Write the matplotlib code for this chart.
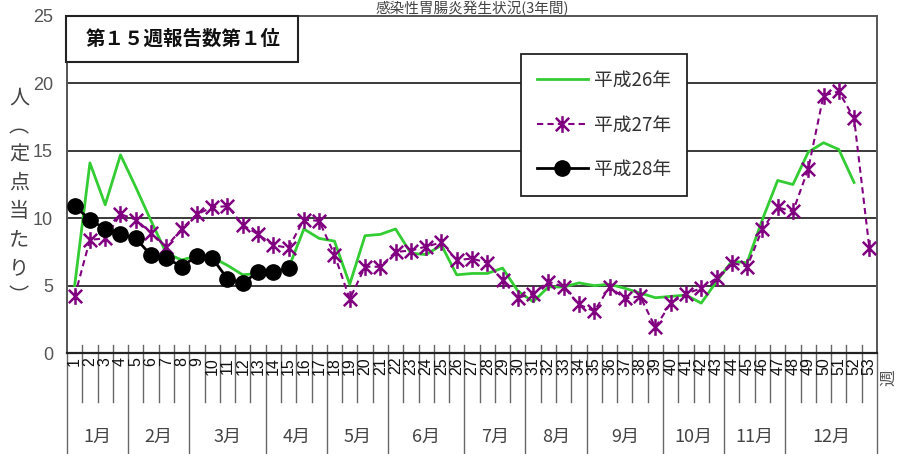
import matplotlib
matplotlib.use("Agg")
import matplotlib.pyplot as plt
from matplotlib.path import Path
from matplotlib.patches import Rectangle
import matplotlib.transforms as mtransforms

plt.rcParams['font.family'] = ['Noto Sans CJK JP', 'DejaVu Sans']

# ---------------- data ----------------
weeks = list(range(1, 54))
week_labels = [str(w) for w in weeks]

h26 = [5.0, 14.1, 11.0, 14.7, 12.3, 9.8, 7.4, 6.9, 7.2, 7.1,
       6.5, 5.8, 5.9, 6.0, 6.3, 9.2, 8.5, 8.3, 5.1, 8.7,
       8.8, 9.2, 7.4, 7.3, 8.0, 5.8, 5.9, 5.9, 6.3, 4.6,
       3.8, 4.9, 4.9, 5.2, 5.0, 5.1, 4.8, 4.45, 4.1, 4.2,
       4.3, 3.7, 5.3, 6.8, 6.7, 9.9, 12.8, 12.5, 14.9, 15.6,
       15.1, 12.65]
h27 = [4.2, 8.4, 8.5, 10.3, 9.9, 8.9, 7.9, 9.2, 10.3, 10.8,
       10.9, 9.5, 8.8, 8.0, 7.8, 9.9, 9.8, 7.3, 4.0, 6.4,
       6.4, 7.5, 7.6, 7.9, 8.2, 6.9, 7.0, 6.7, 5.4, 4.1,
       4.4, 5.3, 4.9, 3.6, 3.1, 4.9, 4.05, 4.2, 1.9, 3.7,
       4.4, 4.8, 5.55, 6.7, 6.4, 9.2, 10.8, 10.5, 13.65, 19.1,
       19.4, 17.4, 7.8]
h28 = [10.9, 9.9, 9.2, 8.85, 8.5, 7.25, 7.05, 6.4, 7.2, 7.05,
       5.5, 5.2, 6.0, 6.0, 6.3]

series_names = ['平成26年', '平成27年', '平成28年']
months = ['1月', '2月', '3月', '4月', '5月', '6月', '7月', '8月', '9月', '10月', '11月', '12月']
month_last_week = [4, 8, 13, 17, 21, 26, 30, 34, 39, 43, 47, 53]
y_ticks = [0, 5, 10, 15, 20, 25]

title = '感染性胃腸炎発生状況(3年間)'
note = '第１５週報告数第１位'
ylabel_chars = ['人', '︵', '定', '点', '当', 'た', 'り', '︶']

# ---------------- figure ----------------
W, H = 897, 454
fig = plt.figure(figsize=(W / 100, H / 100), dpi=100)
fig.patch.set_facecolor('white')

def fx(px):
    return px / W

def fy(py):
    return 1 - py / H

ax_l, ax_r, ax_t, ax_b = 67, 877, 16, 353
ax = fig.add_axes([fx(ax_l), fy(ax_b), fx(ax_r) - fx(ax_l), fy(ax_t) - fy(ax_b)])
ax.set_xlim(0.5, 53.5)
ax.set_ylim(0, 25)

# grid lines
for v in y_ticks[1:-1]:
    ax.axhline(v, color='#3a3a3a', lw=1.4, zorder=1)

for side in ['left', 'right', 'top']:
    ax.spines[side].set_color('#555555')
    ax.spines[side].set_linewidth(1.4)
ax.spines['bottom'].set_color('#222222')
ax.spines['bottom'].set_linewidth(1.6)

ax.set_yticks(y_ticks)
ax.set_yticklabels([str(v) for v in y_ticks], family=['Liberation Sans', 'DejaVu Sans'],
                   fontsize=13, color='#555555')
ax.tick_params(axis='y', length=0, pad=10)
ax.tick_params(axis='x', length=0, labelbottom=False)

# star marker (X + vertical bar)
star = Path([(-1, -1), (1, 1), (-1, 1), (1, -1), (0, -1.25), (0, 1.25)],
            [Path.MOVETO, Path.LINETO, Path.MOVETO, Path.LINETO, Path.MOVETO, Path.LINETO])

ax.plot(weeks[:len(h26)], h26, color='#33CC33', lw=2.0, zorder=3, label=series_names[0])
ax.plot(weeks[:len(h27)], h27, color='#800080', lw=1.5, ls=(0, (3, 2)), marker=star,
        ms=12, mew=1.8, mec='#800080', zorder=4, label=series_names[1], clip_on=False)
ax.plot(weeks[:len(h28)], h28, color='black', lw=2.0, marker='o', ms=11,
        mfc='black', mec='black', zorder=5, label=series_names[2])

# legend
leg = ax.legend(loc='upper left', bbox_to_anchor=(fx(521), fy(54)), bbox_transform=fig.transFigure,
                borderaxespad=0, fancybox=False, framealpha=1, edgecolor='#222222',
                fontsize=13.5, handlelength=2.7, handletextpad=0.35, labelspacing=1.25,
                borderpad=0.85, labelcolor='#333333')
leg.get_frame().set_linewidth(1.3)
leg.set_zorder(10)

# table below the axis
trans = mtransforms.blended_transform_factory(ax.transData, ax.transAxes)
axh = ax_b - ax_t
def ay(py):
    return (ax_b - py) / axh

month_bounds = [0.5] + [m + 0.5 for m in month_last_week]
for k in weeks[:-1]:
    xb = k + 0.5
    if xb in month_bounds:
        continue
    ax.plot([xb, xb], [ay(345), ay(402)], transform=trans, color='#666666', lw=1.0,
            clip_on=False, zorder=2)
for xb in month_bounds:
    top = ay(345) if 0.5 < xb < 53.5 else 0
    ax.plot([xb, xb], [top, ay(454)], transform=trans, color='#666666', lw=1.0,
            clip_on=False, zorder=2)

for w, lab in zip(weeks, week_labels):
    ax.text(w, ay(357), lab, transform=trans, rotation=90, ha='center', va='top',
            fontsize=11.5, color='#111111', family=['Liberation Sans', 'DejaVu Sans'])

first = 1
for m, last in zip(months, month_last_week):
    ax.text((first + last) / 2, ay(437), m, transform=trans, ha='center', va='center',
            fontsize=13, color='#444444')
    first = last + 1

fig.text(fx(889), fy(378), '週', rotation=90, ha='center', va='center', fontsize=12, color='#555555')

# title (at the very top)
fig.text(fx(472), fy(0.5), title, ha='center', va='top', fontsize=10.5, color='#444444')

# note box
fig.patches.append(Rectangle((fx(66), fy(62)), fx(298) - fx(66), fy(16) - fy(62),
                             transform=fig.transFigure, facecolor='white', edgecolor='#222222',
                             lw=1.5, zorder=20))
fig.text(fx(183), fy(39), note, ha='center', va='center', fontsize=14, fontweight='bold',
         color='#111111', zorder=21)

# y label (stacked vertical characters)
n = len(ylabel_chars)
for i, ch in enumerate(ylabel_chars):
    py = 98 + i * (297 - 98) / (n - 1)
    fig.text(fx(19), fy(py), ch, ha='center', va='center', fontsize=14.5, color='#444444')

fig.savefig('out.png', dpi=100, facecolor='white')
